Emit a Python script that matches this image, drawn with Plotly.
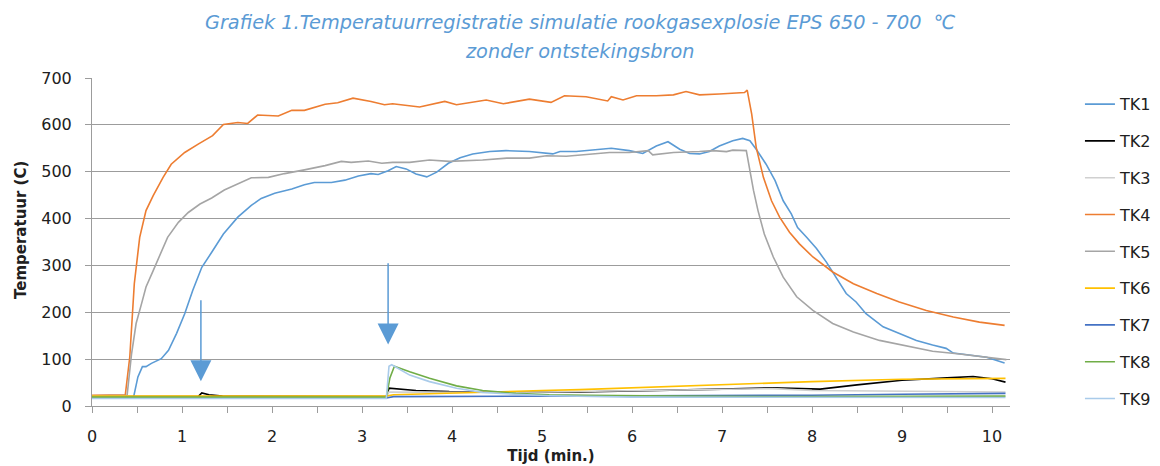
import plotly.graph_objects as go

# ---------------- data (time in minutes, temperature in C) ----------------
t_tk1 = [0, 0.46, 0.51, 0.56, 0.60, 0.66, 0.77, 0.85, 0.94, 1.03, 1.12, 1.22, 1.33, 1.46, 1.62, 1.77, 1.88,
         2.03, 2.22, 2.36, 2.47, 2.66, 2.81, 2.96, 3.10, 3.18, 3.29, 3.38, 3.49, 3.60, 3.72, 3.83, 3.96,
         4.09, 4.23, 4.42, 4.60, 4.86, 5.12, 5.20, 5.38, 5.57, 5.77, 5.97, 6.12, 6.27, 6.40, 6.53, 6.64,
         6.75, 6.86, 6.97, 7.12, 7.23, 7.31, 7.38, 7.49, 7.59, 7.68, 7.77, 7.84, 7.94, 8.05, 8.16, 8.27,
         8.38, 8.49, 8.60, 8.79, 8.97, 9.16, 9.34, 9.49, 9.57, 9.72, 9.94, 10.14]
v_tk1 = [17, 17, 62, 84, 84, 91, 101, 119, 155, 197, 247, 296, 328, 367, 403, 428, 443,
         454, 463, 472, 477, 477, 482, 491, 496, 494, 502, 511, 506, 495, 489, 499, 518,
         530, 538, 543, 545, 543, 538, 543, 543, 547, 550, 545, 539, 555, 564, 548, 539,
         538, 543, 555, 566, 571, 566, 548, 516, 481, 438, 410, 381, 360, 336, 307, 272,
         240, 222, 197, 169, 155, 140, 130, 123, 113, 109, 104, 92]

t_tk2 = [0, 1.18, 1.22, 1.30, 1.45, 3.27, 3.30, 3.35, 3.60, 3.97, 4.50, 5.00, 5.42, 6.00, 6.50, 7.00,
         7.56, 7.80, 8.09, 8.50, 9.00, 9.50, 9.79, 10.00, 10.15]
v_tk2 = [20, 20, 28, 24, 21, 20, 38, 37, 33, 31, 30, 30, 30, 32, 34, 36,
         39, 37, 36, 45, 55, 60, 63, 58, 51]

t_tk3 = [0, 3.27, 3.30, 3.60, 4.00, 5.00, 6.00, 7.00, 7.56, 8.00, 9.00, 10.15]
v_tk3 = [19, 19, 30, 29, 29, 30, 33, 36, 37, 33, 31, 30]

t_tk4 = [0, 0.37, 0.42, 0.47, 0.53, 0.60, 0.68, 0.79, 0.88, 1.03, 1.18, 1.34, 1.46, 1.62, 1.73, 1.84,
         2.07, 2.22, 2.36, 2.59, 2.73, 2.90, 3.10, 3.25, 3.34, 3.64, 3.92, 4.05, 4.38, 4.57, 4.86,
         5.10, 5.25, 5.49, 5.73, 5.77, 5.90, 6.05, 6.27, 6.46, 6.60, 6.75, 6.97, 7.25, 7.28, 7.33,
         7.38, 7.46, 7.55, 7.64, 7.75, 7.86, 8.01, 8.23, 8.46, 8.72, 8.97, 9.27, 9.57, 9.86, 10.14]
v_tk4 = [23, 24, 105, 261, 360, 417, 449, 488, 516, 541, 559, 577, 601, 605, 603, 621,
         619, 631, 631, 644, 647, 657, 650, 643, 645, 638, 650, 643, 653, 645, 655,
         648, 662, 660, 651, 660, 653, 662, 662, 664, 671, 664, 666, 669, 674, 623,
         552, 488, 438, 403, 371, 346, 318, 286, 261, 240, 222, 204, 190, 179, 172]

t_tk5 = [0, 0.39, 0.44, 0.49, 0.55, 0.60, 0.68, 0.77, 0.84, 0.96, 1.07, 1.20, 1.33, 1.47, 1.62, 1.77,
         1.96, 2.14, 2.36, 2.59, 2.77, 2.88, 3.07, 3.22, 3.34, 3.53, 3.75, 3.97, 4.34, 4.61, 4.86,
         5.05, 5.27, 5.53, 5.75, 5.97, 6.18, 6.23, 6.46, 6.75, 6.90, 7.05, 7.12, 7.27, 7.31, 7.35,
         7.40, 7.47, 7.57, 7.68, 7.83, 8.01, 8.23, 8.46, 8.75, 9.05, 9.34, 9.64, 9.94, 10.16]
v_tk5 = [22, 23, 112, 176, 218, 254, 289, 328, 360, 392, 413, 431, 444, 461, 474, 487,
         488, 496, 504, 513, 522, 520, 523, 518, 520, 520, 525, 522, 525, 529, 529,
         534, 533, 538, 541, 541, 545, 536, 541, 543, 545, 543, 546, 545, 502, 460,
         417, 367, 318, 275, 233, 204, 176, 158, 140, 128, 117, 111, 104, 99]

t_tk6 = [0, 3.27, 3.35, 4.00, 5.00, 5.42, 6.00, 6.75, 7.50, 8.00, 9.00, 10.15]
v_tk6 = [21, 21, 24, 28, 33, 35, 39, 45, 49, 52, 57, 59]

t_tk7 = [0, 3.27, 3.35, 5.00, 6.75, 8.00, 9.00, 10.15]
v_tk7 = [17, 17, 20, 21, 21, 23, 25, 27]

t_tk8 = [0, 3.27, 3.31, 3.36, 3.53, 3.75, 4.05, 4.34, 4.71, 5.08, 5.50, 6.50, 8.00, 10.15]
v_tk8 = [19, 19, 60, 85, 73, 59, 43, 33, 27, 24, 23, 21, 20, 21]

t_tk9 = [0, 3.27, 3.30, 3.33, 3.53, 3.75, 4.05, 4.34, 4.70, 5.10, 6.00, 8.00, 10.15]
v_tk9 = [16, 16, 85, 88, 66, 52, 38, 29, 25, 22, 19, 18, 18]

series_names = ["TK1", "TK2", "TK3", "TK4", "TK5", "TK6", "TK7", "TK8", "TK9"]
series_t = [t_tk1, t_tk2, t_tk3, t_tk4, t_tk5, t_tk6, t_tk7, t_tk8, t_tk9]
series_v = [v_tk1, v_tk2, v_tk3, v_tk4, v_tk5, v_tk6, v_tk7, v_tk8, v_tk9]
series_colors = ["#5B9BD5", "#000000", "#D0D0D0", "#ED7D31", "#A5A5A5",
                 "#FFC000", "#4472C4", "#70AD47", "#A9CBEA"]

# arrows: (x tip, y tip, y tail)
arrow_x = [1.21, 3.29]
arrow_tip = [53, 131]
arrow_tail = [229, 308]

x_ticks = [i * 0.5 for i in range(21)]
x_ticktext = [str(int(v)) if v == int(v) else "" for v in x_ticks]
y_ticks = [0, 100, 200, 300, 400, 500, 600, 700]

FONT = "DejaVu Sans"
GRID = "#9C9C9C"

fig = go.Figure()
for name, tt, vv, col in zip(series_names, series_t, series_v, series_colors):
    fig.add_trace(go.Scatter(x=tt, y=vv, mode="lines", name=name, legendgroup=name,
                             line=dict(color=col, width=1.6)))

annotations = []
for ax_, tip, tail in zip(arrow_x, arrow_tip, arrow_tail):
    annotations.append(dict(x=ax_, y=tip, ax=ax_, ay=tail, xref="x", yref="y", axref="x", ayref="y",
                            text="", showarrow=True, arrowhead=2, arrowsize=2.8, arrowwidth=1.5,
                            arrowcolor="#5B9BD5"))

annotations.append(dict(text="<i>Grafiek 1.Temperatuurregistratie simulatie rookgasexplosie EPS 650 - 700  ℃</i>",
                        xref="paper", yref="paper", x=(580 - 92) / 918, y=(406 - 22) / 328,
                        xanchor="center", yanchor="middle", showarrow=False,
                        font=dict(family=FONT, size=19.3, color="#5B9BD5")))
annotations.append(dict(text="<i>zonder ontstekingsbron</i>",
                        xref="paper", yref="paper", x=(580 - 92) / 918, y=(406 - 52) / 328,
                        xanchor="center", yanchor="middle", showarrow=False,
                        font=dict(family=FONT, size=19.3, color="#5B9BD5")))
# y axis title
annotations.append(dict(text="<b>Temperatuur (C)</b>", textangle=-90,
                        xref="paper", yref="paper", x=(21 - 92) / 918, y=(406 - 230) / 328,
                        xanchor="center", yanchor="middle", showarrow=False,
                        font=dict(family=FONT, size=15, color="#202020")))

fig.update_layout(
    width=1160, height=466,
    margin=dict(l=92, r=150, t=78, b=60, autoexpand=False),
    paper_bgcolor="white", plot_bgcolor="white",
    font=dict(family=FONT, size=16, color="#202020"),
    showlegend=True,
    legend=dict(x=1.0762, y=0.972, xanchor="left", yanchor="top", tracegroupgap=13,
                maxheight=420,
                font=dict(family=FONT, size=16, color="#202020"), bgcolor="rgba(0,0,0,0)"),
    annotations=annotations,
    xaxis=dict(range=[0, 10.2], tickvals=x_ticks, ticktext=x_ticktext, showgrid=False,
               showline=True, linecolor=GRID, linewidth=1, ticks="outside", ticklen=6,
               tickcolor=GRID, tickfont=dict(size=16), zeroline=False, ticklabelstandoff=10,
               automargin=False,
               title=dict(text="<b>Tijd (min.)</b>", font=dict(size=15), standoff=5)),
    yaxis=dict(range=[0, 700], tickvals=y_ticks, showgrid=True, gridcolor=GRID, gridwidth=1,
               showline=True, linecolor=GRID, linewidth=1, ticks="outside", ticklen=6,
               tickcolor=GRID, tickfont=dict(size=16), zeroline=False, ticklabelstandoff=10,
               automargin=False),
)

fig.write_html("out.html")
